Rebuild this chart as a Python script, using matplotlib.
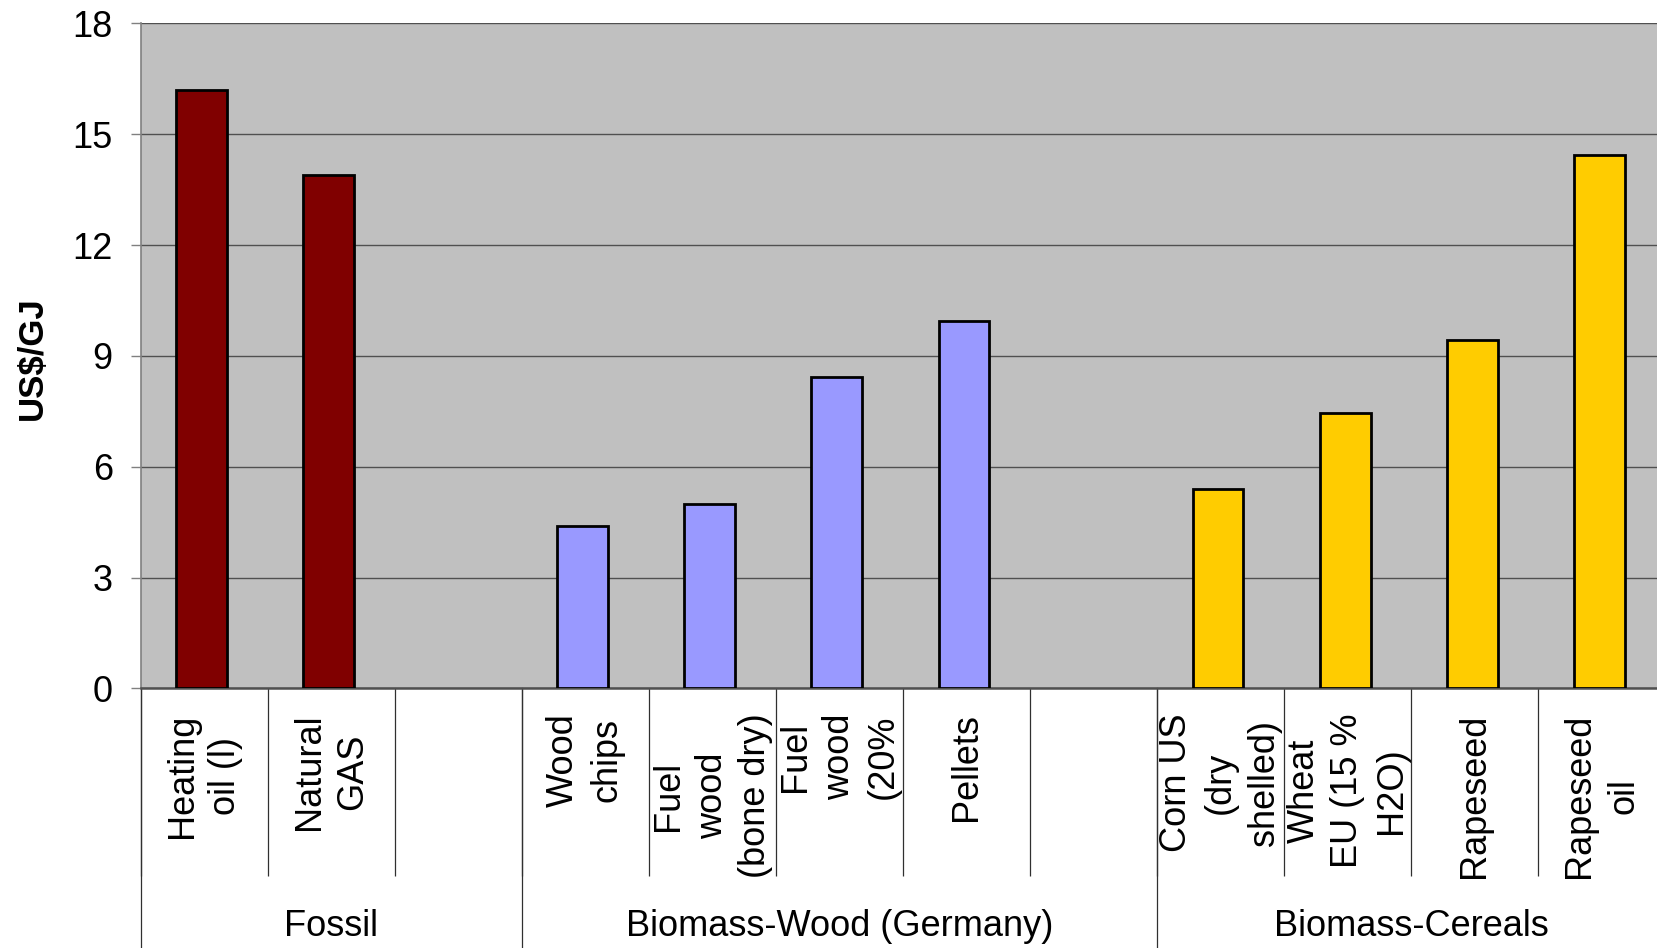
import numpy as np
import matplotlib
matplotlib.use("Agg")
import matplotlib.pyplot as plt

plt.rcParams['font.family'] = ['Liberation Sans', 'DejaVu Sans']

# categories (empty strings are the spacer slots between groups)
labels = ["Heating\noil (l)", "Natural\nGAS", "",
          "Wood\nchips", "Fuel\nwood\n(bone dry)", "Fuel\nwood\n(20%", "Pellets", "",
          "Corn US\n(dry\nshelled)", "Wheat\nEU (15 %\nH2O)", "Rapeseed", "Rapeseed\noil"]
values = [16.2, 13.9, np.nan,
          4.4, 5.0, 8.43, 9.95, np.nan,
          5.4, 7.45, 9.42, 14.43]
bar_colors = ["#800000", "#800000", "none",
              "#9999FF", "#9999FF", "#9999FF", "#9999FF", "none",
              "#FFCC00", "#FFCC00", "#FFCC00", "#FFCC00"]

groups = ["Fossil", "Biomass-Wood (Germany)", "Biomass-Cereals"]
group_start = [0, 3, 8]
group_end = [3, 8, 12]

yticks = [0, 3, 6, 9, 12, 15, 18]

fig = plt.figure(figsize=(16.58, 9.48), dpi=100)
# plot area runs past the right edge of the picture, like the original
ax = fig.add_axes([0.0848, 0.2738, 0.9196, 0.7016])
ax.set_facecolor("#C0C0C0")

x = np.arange(len(labels)) + 0.5
ax.bar(x - 0.02, np.nan_to_num(values), width=0.4, color=bar_colors,
       edgecolor=["black" if c != "none" else "none" for c in bar_colors],
       linewidth=2.0, zorder=3)

ax.set_xlim(0, len(labels))
ax.set_ylim(0, 18)
ax.set_yticks(yticks)
ax.set_yticklabels([str(t) for t in yticks], fontsize=26)
ax.yaxis.grid(True, color="#505050", linewidth=1.0, zorder=1)
ax.set_axisbelow(True)
ax.tick_params(axis="y", direction="out", length=7, width=1, color="#808080", pad=13)

# category labels at slot centres, separators as minor ticks
ax.set_xticks(x)
ax.set_xticklabels(labels, rotation=90, fontsize=26, va="top", ha="center",
                   multialignment="center", linespacing=1.32)
ax.tick_params(axis="x", which="major", length=0, pad=18)
ax.set_xticks(np.arange(len(labels) + 1), minor=True)
ax.tick_params(axis="x", which="minor", length=135, width=0.9, color="#303030")

for s in ["top", "right"]:
    ax.spines[s].set_visible(False)
ax.spines["left"].set_color("#808080")
ax.spines["left"].set_linewidth(1.2)
ax.spines["bottom"].set_color("#505050")
ax.spines["bottom"].set_linewidth(1.8)

# group boundaries and names under the category labels
trans = ax.get_xaxis_transform()
for g, a, b in zip(groups, group_start, group_end):
    ax.plot([a, a], [0, -0.42], transform=trans, color="#303030",
            linewidth=0.9, clip_on=False)
    ax.text((a + b) / 2, -0.358, g, transform=trans, ha="center", va="center",
            fontsize=26)

fig.text(32 / 1658, 1 - 358 / 948, "US$/GJ", rotation=90, ha="center", va="center",
         fontsize=25, fontweight="bold")

fig.savefig("out.png", dpi=100)
